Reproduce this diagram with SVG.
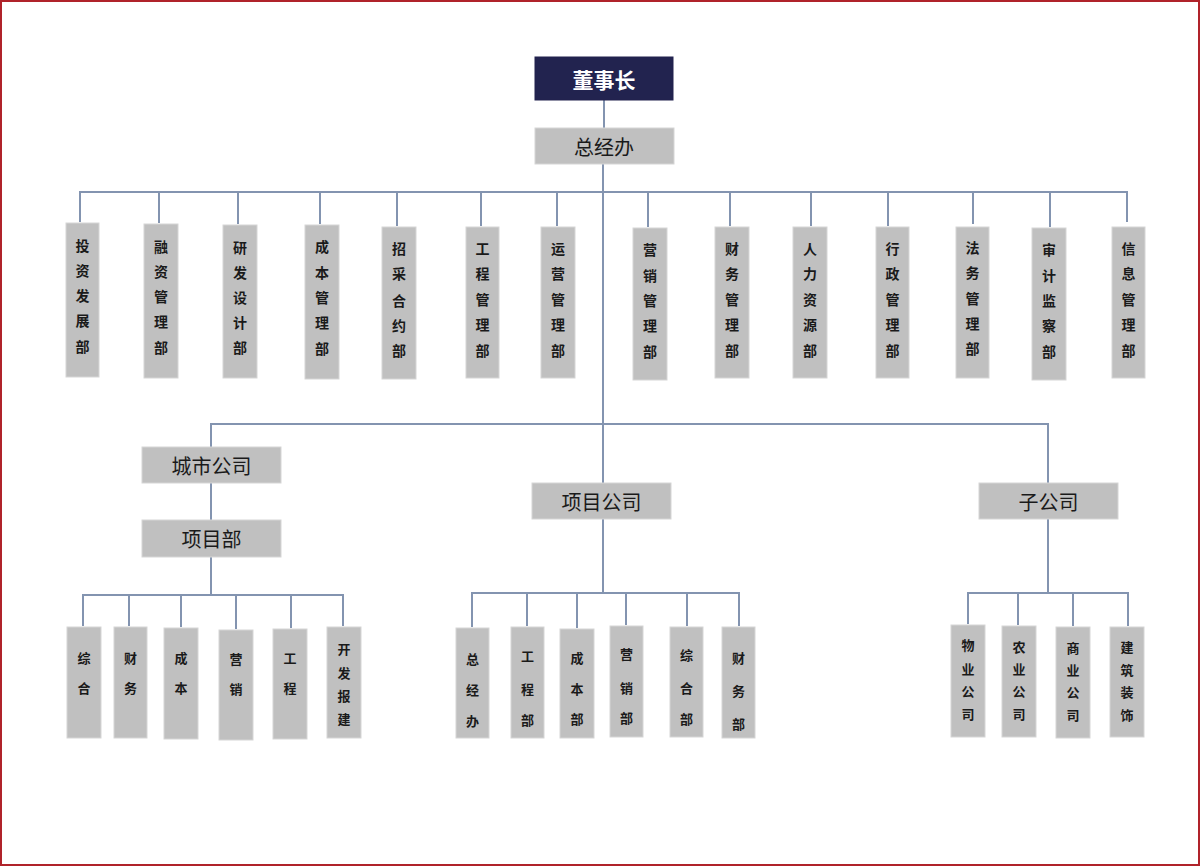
<svg xmlns="http://www.w3.org/2000/svg" width="1200" height="866" viewBox="0 0 1200 866">
<style>
.bg{fill:#ffffff;stroke:#b0232a;stroke-width:2}
.box{fill:#c0c0c0;stroke:#d6d6d6;stroke-width:1}
.top{fill:#22234f;stroke:#22234f}
.ln{fill:none;stroke:#8394b0;stroke-width:2}
text{font-family:"Noto Sans CJK SC","Noto Sans",sans-serif;fill:#1a1a1a;text-anchor:middle;dominant-baseline:central}
.big{font-size:20px}
.ttl{font-size:21px;font-weight:bold;fill:#ffffff}
.v{font-size:14px;font-weight:bold}
.s{font-size:13px;font-weight:bold}
</style>
<rect class="bg" x="1" y="1" width="1198" height="864"/>
<g id="connectors">
<path class="ln" d="M604 100V128"/>
<path class="ln" d="M603 164V483"/>
<path class="ln" d="M80 222V192H1127V222"/>
<path class="ln" d="M159 192V223M238 192V224M320 192V224M397 192V226M481 192V226M557 192V226M648 192V227M730 192V226M811 192V226M888 192V226M973 192V224M1050 192V227"/>
<path class="ln" d="M211 447V424H1048V483"/>
<path class="ln" d="M211 483V520M211 557V595"/>
<path class="ln" d="M83 626V595H343V626M129 595V626M181 595V627M236 595V629M291 595V628"/>
<path class="ln" d="M603 519V593M472 627V593H739V626M527 593V626M577 593V628M626 593V625M687 593V626"/>
<path class="ln" d="M1048 519V593M968 624V593H1128V626M1018 593V625M1073 593V626"/>
</g>
<g id="n-chairman"><rect class="top" x="535" y="57" width="138" height="43"/><text class="ttl" x="604" y="79">董事长</text></g>
<g id="n-gm"><rect class="box" x="535" y="128" width="139" height="36"/><text class="big" x="604" y="146">总经办</text></g>
<g id="n-d1"><rect class="box" x="66" y="223" width="33" height="154"/><text class="v" x="82.5" y="245">投</text><text class="v" x="82.5" y="270">资</text><text class="v" x="82.5" y="295">发</text><text class="v" x="82.5" y="320">展</text><text class="v" x="82.5" y="346">部</text></g>
<g id="n-d2"><rect class="box" x="144" y="224" width="34" height="154"/><text class="v" x="161" y="246">融</text><text class="v" x="161" y="271">资</text><text class="v" x="161" y="296">管</text><text class="v" x="161" y="321">理</text><text class="v" x="161" y="347">部</text></g>
<g id="n-d3"><rect class="box" x="223" y="225" width="34" height="153"/><text class="v" x="240" y="247">研</text><text class="v" x="240" y="272">发</text><text class="v" x="240" y="297">设</text><text class="v" x="240" y="322">计</text><text class="v" x="240" y="347">部</text></g>
<g id="n-d4"><rect class="box" x="305" y="225" width="34" height="154"/><text class="v" x="322" y="246">成</text><text class="v" x="322" y="272">本</text><text class="v" x="322" y="297">管</text><text class="v" x="322" y="322">理</text><text class="v" x="322" y="348">部</text></g>
<g id="n-d5"><rect class="box" x="382" y="227" width="34" height="152"/><text class="v" x="399" y="248">招</text><text class="v" x="399" y="273">采</text><text class="v" x="399" y="300">合</text><text class="v" x="399" y="325">约</text><text class="v" x="399" y="350">部</text></g>
<g id="n-d6"><rect class="box" x="466" y="227" width="33" height="151"/><text class="v" x="482.5" y="248">工</text><text class="v" x="482.5" y="273">程</text><text class="v" x="482.5" y="299">管</text><text class="v" x="482.5" y="324">理</text><text class="v" x="482.5" y="350">部</text></g>
<g id="n-d7"><rect class="box" x="541" y="227" width="34" height="151"/><text class="v" x="558" y="248">运</text><text class="v" x="558" y="273">营</text><text class="v" x="558" y="299">管</text><text class="v" x="558" y="324">理</text><text class="v" x="558" y="350">部</text></g>
<g id="n-d8"><rect class="box" x="633" y="228" width="34" height="152"/><text class="v" x="650" y="249">营</text><text class="v" x="650" y="275">销</text><text class="v" x="650" y="300">管</text><text class="v" x="650" y="325">理</text><text class="v" x="650" y="351">部</text></g>
<g id="n-d9"><rect class="box" x="715" y="227" width="34" height="151"/><text class="v" x="732" y="248">财</text><text class="v" x="732" y="273">务</text><text class="v" x="732" y="299">管</text><text class="v" x="732" y="324">理</text><text class="v" x="732" y="350">部</text></g>
<g id="n-d10"><rect class="box" x="793" y="227" width="34" height="151"/><text class="v" x="810" y="248">人</text><text class="v" x="810" y="273">力</text><text class="v" x="810" y="299">资</text><text class="v" x="810" y="324">源</text><text class="v" x="810" y="350">部</text></g>
<g id="n-d11"><rect class="box" x="876" y="227" width="33" height="151"/><text class="v" x="892.5" y="248">行</text><text class="v" x="892.5" y="273">政</text><text class="v" x="892.5" y="299">管</text><text class="v" x="892.5" y="324">理</text><text class="v" x="892.5" y="350">部</text></g>
<g id="n-d12"><rect class="box" x="956" y="227" width="33" height="151"/><text class="v" x="972.5" y="247">法</text><text class="v" x="972.5" y="272">务</text><text class="v" x="972.5" y="298">管</text><text class="v" x="972.5" y="323">理</text><text class="v" x="972.5" y="348">部</text></g>
<g id="n-d13"><rect class="box" x="1032" y="228" width="34" height="152"/><text class="v" x="1049" y="249">审</text><text class="v" x="1049" y="275">计</text><text class="v" x="1049" y="300">监</text><text class="v" x="1049" y="325">察</text><text class="v" x="1049" y="351">部</text></g>
<g id="n-d14"><rect class="box" x="1112" y="227" width="33" height="151"/><text class="v" x="1128.5" y="248">信</text><text class="v" x="1128.5" y="273">息</text><text class="v" x="1128.5" y="299">管</text><text class="v" x="1128.5" y="324">理</text><text class="v" x="1128.5" y="350">部</text></g>
<g id="n-city"><rect class="box" x="142" y="447" width="139" height="36"/><text class="big" x="211.5" y="465">城市公司</text></g>
<g id="n-projdept"><rect class="box" x="142" y="520" width="139" height="37"/><text class="big" x="211.5" y="538">项目部</text></g>
<g id="n-c1"><rect class="box" x="67" y="627" width="34" height="111"/><text class="s" x="84" y="657">综</text><text class="s" x="84" y="687">合</text></g>
<g id="n-c2"><rect class="box" x="114" y="627" width="33" height="111"/><text class="s" x="130.5" y="657">财</text><text class="s" x="130.5" y="687">务</text></g>
<g id="n-c3"><rect class="box" x="164" y="628" width="34" height="111"/><text class="s" x="181" y="657">成</text><text class="s" x="181" y="687">本</text></g>
<g id="n-c4"><rect class="box" x="219" y="630" width="34" height="110"/><text class="s" x="236" y="658">营</text><text class="s" x="236" y="688">销</text></g>
<g id="n-c5"><rect class="box" x="273" y="629" width="34" height="110"/><text class="s" x="290" y="657">工</text><text class="s" x="290" y="687">程</text></g>
<g id="n-c6"><rect class="box" x="327" y="627" width="34" height="111"/><text class="s" x="344" y="648">开</text><text class="s" x="344" y="672">发</text><text class="s" x="344" y="695">报</text><text class="s" x="344" y="718">建</text></g>
<g id="n-projco"><rect class="box" x="532" y="483" width="139" height="36"/><text class="big" x="601.5" y="501">项目公司</text></g>
<g id="n-p1"><rect class="box" x="456" y="628" width="33" height="110"/><text class="s" x="472.5" y="658">总</text><text class="s" x="472.5" y="689">经</text><text class="s" x="472.5" y="720">办</text></g>
<g id="n-p2"><rect class="box" x="511" y="627" width="33" height="111"/><text class="s" x="527.5" y="655">工</text><text class="s" x="527.5" y="688">程</text><text class="s" x="527.5" y="719">部</text></g>
<g id="n-p3"><rect class="box" x="560" y="629" width="34" height="109"/><text class="s" x="577" y="657">成</text><text class="s" x="577" y="688">本</text><text class="s" x="577" y="718">部</text></g>
<g id="n-p4"><rect class="box" x="610" y="626" width="33" height="111"/><text class="s" x="626.5" y="653">营</text><text class="s" x="626.5" y="687">销</text><text class="s" x="626.5" y="717">部</text></g>
<g id="n-p5"><rect class="box" x="670" y="627" width="33" height="110"/><text class="s" x="686.5" y="654">综</text><text class="s" x="686.5" y="687">合</text><text class="s" x="686.5" y="718">部</text></g>
<g id="n-p6"><rect class="box" x="722" y="627" width="33" height="111"/><text class="s" x="738.5" y="657">财</text><text class="s" x="738.5" y="690">务</text><text class="s" x="738.5" y="723">部</text></g>
<g id="n-sub"><rect class="box" x="979" y="483" width="139" height="36"/><text class="big" x="1048.5" y="501">子公司</text></g>
<g id="n-s1"><rect class="box" x="951" y="625" width="34" height="112"/><text class="s" x="968" y="644">物</text><text class="s" x="968" y="668">业</text><text class="s" x="968" y="690">公</text><text class="s" x="968" y="713">司</text></g>
<g id="n-s2"><rect class="box" x="1002" y="626" width="34" height="111"/><text class="s" x="1019" y="646">农</text><text class="s" x="1019" y="668">业</text><text class="s" x="1019" y="690">公</text><text class="s" x="1019" y="713">司</text></g>
<g id="n-s3"><rect class="box" x="1056" y="627" width="34" height="111"/><text class="s" x="1073" y="647">商</text><text class="s" x="1073" y="669">业</text><text class="s" x="1073" y="691">公</text><text class="s" x="1073" y="714">司</text></g>
<g id="n-s4"><rect class="box" x="1110" y="627" width="34" height="110"/><text class="s" x="1127" y="646">建</text><text class="s" x="1127" y="669">筑</text><text class="s" x="1127" y="691">装</text><text class="s" x="1127" y="714">饰</text></g>
</svg>
